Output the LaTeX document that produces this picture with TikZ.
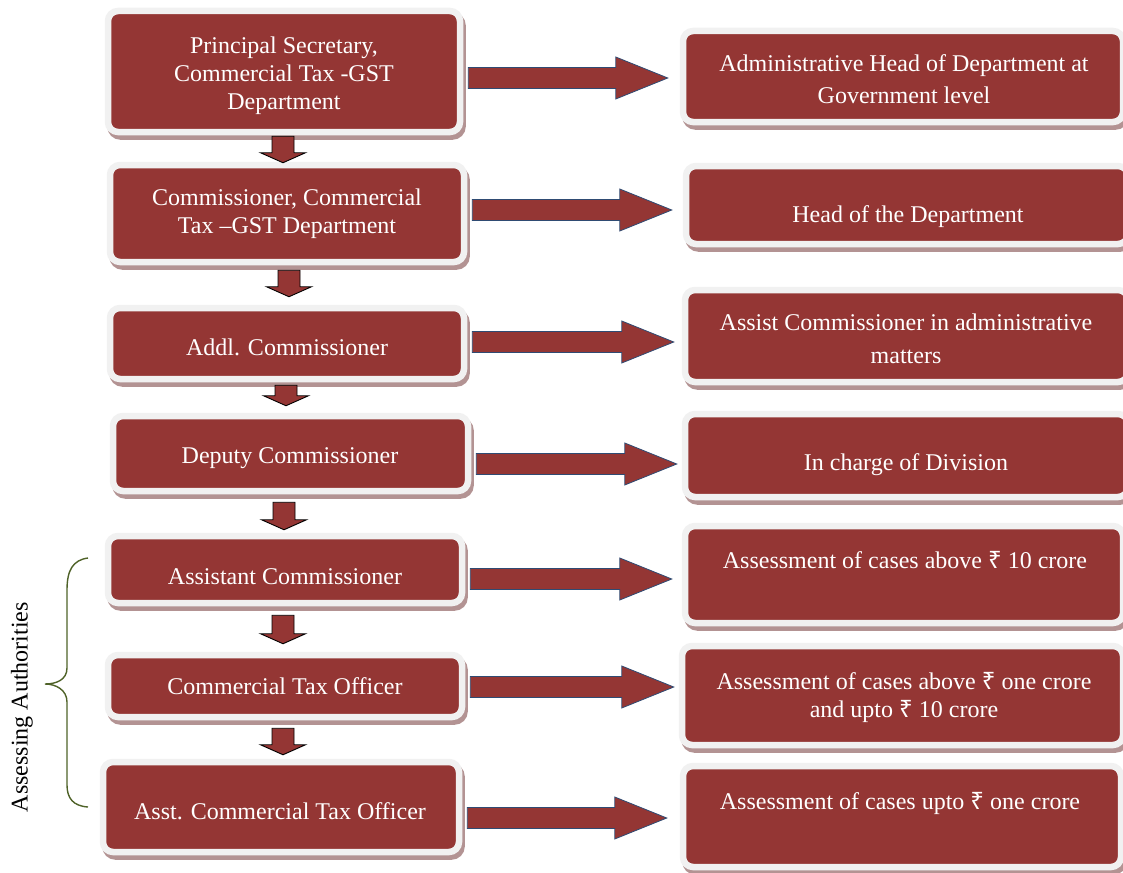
\documentclass[tikz,border=0pt]{standalone}
\usepackage{fontspec}
\setmainfont{Liberation Serif}
\newfontfamily\rupeefont{Noto Sans}
\newcommand{\rs}{{\rupeefont ₹}}
\usetikzlibrary{calc}
\definecolor{boxred}{HTML}{943634}
\definecolor{rimc}{HTML}{F1F1F1}
\definecolor{shadec}{HTML}{B39393}
\definecolor{navyc}{HTML}{2F4B73}
\definecolor{bracec}{HTML}{4F6228}
\tikzset{
  box/.style={rounded corners=10pt, fill=boxred, draw=rimc, line width=6.5pt,
    inner sep=0pt,
    preaction={draw=shadec, fill=shadec, line width=6.5pt,
      transform canvas={shift={(2.5pt,-4.5pt)}}}},
  txt/.style={text=white, align=center, inner sep=0pt, font=\fontsize{24}{28}\selectfont},
  rblock/.style={fill=boxred, draw=navyc, line width=0.8pt, line join=miter},
  dblock/.style={fill=boxred, draw=black, line width=0.9pt, line join=miter},
  bracestyle/.style={draw=bracec, line width=1.4pt}
}
% right block arrow: left node, right node, y (px), gap before right node
\newcommand{\rarrow}[4]{%
  \path let \p1=(#1.east), \p2=(#2.west) in
    [rblock] (\x1+5pt,{-#3pt+10.5pt}) -- ({\x2-#4pt-52pt},{-#3pt+10.5pt})
    -- ({\x2-#4pt-52pt},{-#3pt+21pt}) -- ({\x2-#4pt},{-#3pt})
    -- ({\x2-#4pt-52pt},{-#3pt-21pt}) -- ({\x2-#4pt-52pt},{-#3pt-10.5pt})
    -- (\x1+5pt,{-#3pt-10.5pt}) -- cycle;}
% down block arrow: upper node, lower node, x (px), offset below upper, offset above lower
\newcommand{\darrow}[5]{%
  \path let \p1=(#1.south), \p2=(#2.north) in
    [dblock] ({#3pt-11pt},{\y1-#4pt}) -- ({#3pt+11pt},{\y1-#4pt})
    -- ({#3pt+11pt},{\y2+#5pt+10pt}) -- ({#3pt+22.5pt},{\y2+#5pt+10pt})
    -- ({#3pt},{\y2+#5pt}) -- ({#3pt-22.5pt},{\y2+#5pt+10pt})
    -- ({#3pt-11pt},{\y2+#5pt+10pt}) -- cycle;}
\begin{document}
\begin{tikzpicture}[x=1pt,y=-1pt]
\useasboundingbox (0,0) rectangle (1123,872);
\clip (0,0) rectangle (1123,872);

% left boxes
\node[box, minimum width=352pt, minimum height=121pt] (L1) at (284,71.5) {};
\node[box, minimum width=354pt, minimum height=97pt] (L2) at (287,213.5) {};
\node[box, minimum width=354pt, minimum height=71pt] (L3) at (287,343.5) {};
\node[box, minimum width=355pt, minimum height=75pt] (L4) at (290.5,453.5) {};
\node[box, minimum width=354pt, minimum height=67pt] (L5) at (285,569.5) {};
\node[box, minimum width=354pt, minimum height=62pt] (L6) at (285,686) {};
\node[box, minimum width=356pt, minimum height=90pt] (L7) at (281,807) {};

% right boxes
\node[box, minimum width=440pt, minimum height=91pt] (R1) at (903,76.5) {};
\node[box, minimum width=442pt, minimum height=78pt] (R2) at (907,205) {};
\node[box, minimum width=443pt, minimum height=92pt] (R3) at (906.5,336) {};
\node[box, minimum width=443pt, minimum height=83pt] (R4) at (906.5,455.5) {};
\node[box, minimum width=438pt, minimum height=97pt] (R5) at (904,574.5) {};
\node[box, minimum width=441pt, minimum height=99pt] (R6) at (902.5,695.5) {};
\node[box, minimum width=438pt, minimum height=101pt] (R7) at (902,816.5) {};

% texts
\node[txt] (L1t) at (284,76) {Principal Secretary,\\Commercial Tax -GST\\Department};
\node[txt] (L2t) at (287,213.5) {Commissioner, Commercial\\Tax –GST Department};
\node[txt] (L3t) at (287,347) {Addl. Commissioner};
\node[txt] (L4t) at (290,458.5) {Deputy Commissioner};
\node[txt] (L5t) at (285,577) {Assistant Commissioner};
\node[txt] (L6t) at (285,686) {Commercial Tax Officer};
\node[txt] (L7t) at (280,811) {Asst. Commercial Tax Officer};

\node[txt, font=\fontsize{24}{32}\selectfont] (R1t) at (904,79) {Administrative Head of Department at\\Government level};
\node[txt] (R2t) at (908,217) {Head of the Department};
\node[txt, font=\fontsize{24}{33}\selectfont] (R3t) at (906,339) {Assist Commissioner in administrative\\matters};
\node[txt] (R4t) at (906,465) {In charge of Division};
\node[txt] (R5t) at (905,560) {Assessment of cases above \rs{} 10 crore};
\node[txt] (R6t) at (904,697) {Assessment of cases above \rs{} one crore\\and upto \rs{} 10 crore};
\node[txt] (R7t) at (900,803) {Assessment of cases upto \rs{} one crore};

% right arrows
\rarrow{L1}{R1}{78}{12}
\rarrow{L2}{R2}{210}{11}
\rarrow{L3}{R3}{342}{8}
\rarrow{L4}{R4}{464}{5}
\rarrow{L5}{R5}{579}{10}
\rarrow{L6}{R6}{687}{5}
\rarrow{L7}{R7}{818}{13}

% down arrows
\darrow{L1}{L2}{283}{1}{-1}
\darrow{L2}{L3}{289}{5}{8}
\darrow{L3}{L4}{286}{3}{7}
\darrow{L4}{L5}{284}{8}{3}
\darrow{L5}{L6}{283}{9}{8}
\darrow{L6}{L7}{283}{8}{4}

% brace and side label
\coordinate (btop) at (88,558);
\coordinate (bbot) at (88,807);
\draw[bracestyle] (btop) .. controls (73,560) and (67,570) .. (67,590)
  -- (67,668) .. controls (67,680) and (56,684) .. (45,684)
  .. controls (56,684) and (67,690) .. (67,702)
  -- (67,785) .. controls (67,798) and (73,806) .. (bbot);
\node[rotate=90, inner sep=0pt, font=\fontsize{24}{28}\selectfont] (side) at (22,707) {Assessing Authorities};
\end{tikzpicture}
\end{document}
